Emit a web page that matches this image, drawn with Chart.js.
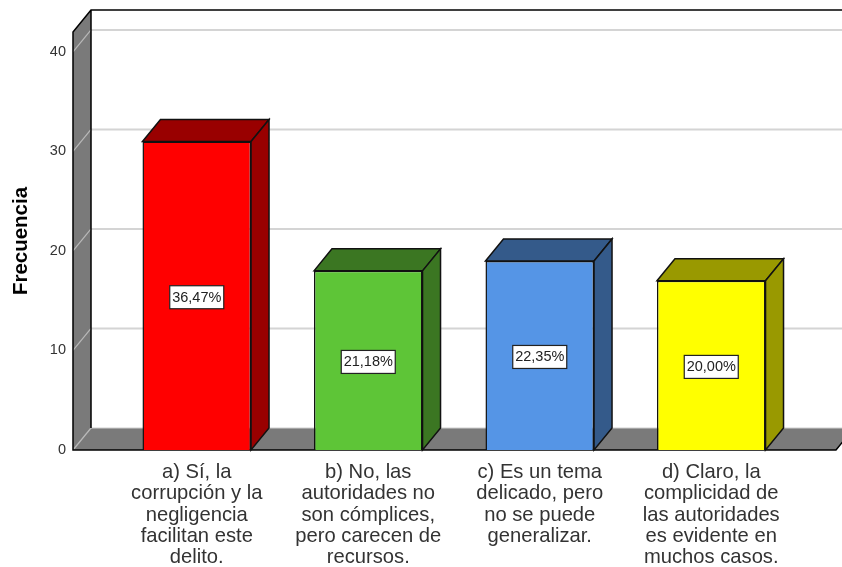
<!DOCTYPE html>
<html><head><meta charset="utf-8">
<style>html,body{margin:0;padding:0;background:#fff}canvas{display:block}</style>
<script src="https://cdn.jsdelivr.net/npm/chart.js@4"></script>
</head><body><canvas id="c" width="842" height="567"></canvas>
<script>
const categories = [
  ["a) Sí, la","corrupción y la","negligencia","facilitan este","delito."],
  ["b) No, las","autoridades no","son cómplices,","pero carecen de","recursos."],
  ["c) Es un tema","delicado, pero","no se puede","generalizar."],
  ["d) Claro, la","complicidad de","las autoridades","es evidente en","muchos casos."]
];
const frequencies = [31, 18, 19, 17];
const percentLabels = ["36,47%","21,18%","22,35%","20,00%"];
const faceColors = ["#ff0000","#5ec537","#5595e6","#ffff00"];
const sideColors = ["#990000","#3b7622","#345a8a","#999900"];
const yTicks = [0,10,20,30,40];

const DX = 18, DY = 22, WALL_LEFT = 38, WALL_RIGHT = 39;
const PLOT_TOP = 32;
const WALL = "#7a7a7a";

function poly(ctx, pts, fill, stroke, lw){
  ctx.beginPath();
  pts.forEach((p,i)=> i?ctx.lineTo(p[0],p[1]):ctx.moveTo(p[0],p[1]));
  ctx.closePath();
  if(fill){ctx.fillStyle=fill;ctx.fill();}
  if(stroke){ctx.strokeStyle=stroke;ctx.lineWidth=lw||1.5;ctx.stroke();}
}

const frame3d = {
  id:"frame3d",
  afterLayout(chart){
    const a=chart.chartArea, y=chart.scales.y;
    a.top=PLOT_TOP; a.height=a.bottom-PLOT_TOP;
    y.top=PLOT_TOP; y.height=y.bottom-PLOT_TOP;
    y.configure();
  },
  beforeDatasetsDraw(chart){
    const {ctx,chartArea:a,scales:{y}} = chart;
    const L=a.left-WALL_LEFT, R=a.right+WALL_RIGHT, T=a.top, B=a.bottom;
    ctx.save();
    poly(ctx,[[L,T],[L+DX,T-DY],[L+DX,B-DY],[L,B]],WALL,null);
    poly(ctx,[[L,B],[L+DX,B-DY],[R+DX,B-DY],[R,B]],WALL,null);
    yTicks.forEach(v=>{
      if(v===0) return;
      const py=y.getPixelForValue(v);
      ctx.strokeStyle="#b9b9b9";ctx.lineWidth=1.2;
      ctx.beginPath();ctx.moveTo(L,py);ctx.lineTo(L+DX,py-DY);ctx.stroke();
      ctx.strokeStyle="#d4d4d4";ctx.lineWidth=2;
      ctx.beginPath();ctx.moveTo(L+DX,py-DY);ctx.lineTo(R+DX,py-DY);ctx.stroke();
    });
    ctx.strokeStyle="#b9b9b9";ctx.lineWidth=1.2;
    ctx.beginPath();ctx.moveTo(L,B);ctx.lineTo(L+DX,B-DY);ctx.stroke();
    ctx.strokeStyle="#cfcfcf";ctx.lineWidth=1;
    ctx.beginPath();ctx.moveTo(L+DX,B-DY);ctx.lineTo(R+DX,B-DY);ctx.stroke();
    ctx.strokeStyle="#000";ctx.lineWidth=1.5;
    ctx.beginPath();
    ctx.moveTo(L,B);ctx.lineTo(L,T);ctx.lineTo(L+DX,T-DY);ctx.lineTo(R+DX,T-DY);
    ctx.moveTo(L+DX,T-DY);ctx.lineTo(L+DX,B-DY);
    ctx.moveTo(L,T);ctx.lineTo(L,B);ctx.lineTo(R,B);ctx.lineTo(R+DX,B-DY);
    ctx.stroke();
    chart.getDatasetMeta(0).data.forEach((bar,i)=>{
      const l=bar.x-bar.width/2, r=bar.x+bar.width/2, t=bar.y, b=bar.base;
      poly(ctx,[[l,t],[l+DX,t-DY],[r+DX,t-DY],[r,t]],sideColors[i],"#111",1.5);
      poly(ctx,[[r,t],[r+DX,t-DY],[r+DX,b-DY],[r,b]],sideColors[i],"#111",1.5);
    });
    ctx.restore();
  },
  afterDatasetsDraw(chart){
    const {ctx} = chart;
    ctx.save();
    ctx.font='14.5px "Liberation Sans", Arial, sans-serif';
    ctx.textAlign="center";ctx.textBaseline="middle";
    chart.getDatasetMeta(0).data.forEach((bar,i)=>{
      const cy=(bar.y+bar.base)/2+1.5, w=54, h=23;
      ctx.fillStyle="#fff";ctx.fillRect(bar.x-w/2,cy-h/2,w,h);
      ctx.strokeStyle="#222";ctx.lineWidth=1.2;ctx.strokeRect(bar.x-w/2,cy-h/2,w,h);
      ctx.fillStyle="#222";ctx.fillText(percentLabels[i],bar.x,cy+0.5);
    });
    ctx.restore();
  }
};

new Chart(document.getElementById("c"),{
  type:"bar",
  data:{labels:categories,datasets:[{
    data:frequencies,
    backgroundColor:faceColors,
    borderColor:"#111",
    borderWidth:1.5,
    categoryPercentage:1,
    barPercentage:0.633
  }]},
  plugins:[frame3d],
  options:{
    responsive:false,animation:false,
    layout:{autoPadding:false,padding:{left:0,right:45,top:32,bottom:0}},
    plugins:{legend:{display:false},tooltip:{enabled:false}},
    scales:{
      x:{
        grid:{display:false},border:{display:false},
        afterFit(s){s.height=117;},
        ticks:{color:"#333",maxRotation:0,autoSkip:false,padding:4,
          font:{family:'"Liberation Sans", Arial, sans-serif',size:20.2,lineHeight:1.05}}
      },
      y:{
        min:0,max:42,
        grid:{display:false,drawTicks:false},border:{display:false},
        afterFit(s){s.width=111;},
        afterBuildTicks(s){s.ticks=yTicks.map(v=>({value:v}));},
        ticks:{color:"#333",padding:45,
          font:{family:'"Liberation Sans", Arial, sans-serif',size:14.5}},
        title:{display:true,text:"Frecuencia",color:"#000",padding:{top:9,bottom:0},
          font:{family:'"Liberation Sans", Arial, sans-serif',size:20.5,weight:"bold"}}
      }
    }
  }
});
</script></body></html>
